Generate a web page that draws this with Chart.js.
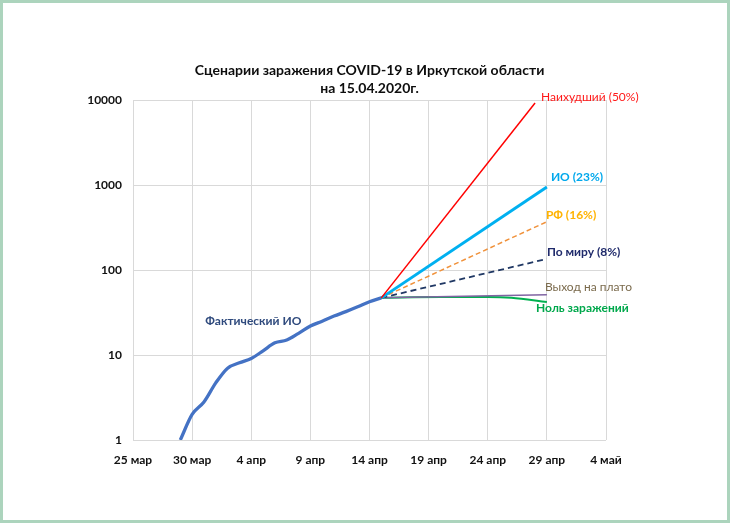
<!DOCTYPE html>
<html>
<head>
<meta charset="utf-8">
<script src="https://cdn.jsdelivr.net/npm/chart.js"></script>
<style>
  html, body { margin: 0; padding: 0; background: #fff; }
  #frame {
    position: absolute; left: 0; top: 0;
    width: 730px; height: 523px;
    box-sizing: border-box;
    border: 3px solid #acd4bd;
    background: #fff;
  }
  canvas { display: block; }
</style>
</head>
<body>
<div id="frame"><canvas id="chart" width="724" height="517"></canvas></div>
<script>
// every day on the x axis
const days = [
  '25 мар', '26 мар', '27 мар', '28 мар', '29 мар', '30 мар', '31 мар',
  '1 апр', '2 апр', '3 апр', '4 апр', '5 апр', '6 апр', '7 апр', '8 апр',
  '9 апр', '10 апр', '11 апр', '12 апр', '13 апр', '14 апр', '15 апр',
  '16 апр', '17 апр', '18 апр', '19 апр', '20 апр', '21 апр', '22 апр',
  '23 апр', '24 апр', '25 апр', '26 апр', '27 апр', '28 апр', '29 апр',
  '30 апр', '1 май', '2 май', '3 май', '4 май'
];
const yTicks = [1, 10, 100, 1000, 10000];

// actual cases in Irkutsk oblast
const actualDates = [
  '29 мар', '30 мар', '31 мар', '1 апр', '2 апр', '3 апр', '4 апр', '5 апр',
  '6 апр', '7 апр', '8 апр', '9 апр', '10 апр', '11 апр', '12 апр', '13 апр',
  '14 апр', '15 апр'
];
const actualValues = [1, 2, 2.8, 4.7, 7, 8.1, 9.1, 11.2, 13.9, 15, 18, 21.9, 25, 28.7, 32.4, 36.9, 42.4, 47];

// scenarios from 15.04
const worstDates = ['15 апр', '28 апр'];
const worstValues = [47, 9200];
const scenarioDates = ['15 апр', '29 апр'];
const ioValues = [47, 950];
const rfValues = [47, 370];
const worldValues = [47, 135];
const plateauValues = [47, 51];
const zeroDates = ['15 апр', '20 апр', '24 апр', '26 апр', '29 апр'];
const zeroValues = [47, 48, 48, 47, 42];

function pts(dates, values) {
  return dates.map((d, i) => ({ x: d, y: values[i] }));
}

const FONT = 'Lato, "Open Sans", sans-serif';

// draws the text tags next to the lines
const tagPlugin = {
  id: 'tags',
  afterDatasetsDraw(chart) {
    const ctx = chart.ctx;
    chart.data.datasets.forEach((ds, i) => {
      if (!ds.tag) return;
      const meta = chart.getDatasetMeta(i);
      const idx = ds.tag.at === undefined ? meta.data.length - 1 : ds.tag.at;
      const el = meta.data[idx];
      ctx.save();
      ctx.font = (ds.tag.bold ? 'bold ' : '') + '12px ' + FONT;
      ctx.fillStyle = ds.tag.color;
      ctx.textAlign = ds.tag.align || 'left';
      ctx.textBaseline = 'middle';
      ctx.fillText(ds.tag.text, el.x + ds.tag.dx, el.y + ds.tag.dy);
      ctx.restore();
    });
  }
};

new Chart(document.getElementById('chart'), {
  type: 'line',
  data: {
    labels: days,
    datasets: [
      {
        data: pts(worstDates, worstValues),
        borderColor: '#ff0000', borderWidth: 1.5,
        tag: { text: 'Наихудший (50%)', color: '#ff1a1a', dx: 6, dy: -6 }
      },
      {
        data: pts(scenarioDates, ioValues),
        borderColor: '#00b0f0', borderWidth: 3,
        tag: { text: 'ИО (23%)', color: '#00a8ec', bold: true, dx: 4, dy: -10 }
      },
      {
        data: pts(scenarioDates, rfValues),
        borderColor: '#f0913a', borderWidth: 1.5, borderDash: [5, 3],
        tag: { text: 'РФ (16%)', color: '#ffb300', bold: true, dx: -1, dy: -7 }
      },
      {
        data: pts(scenarioDates, worldValues),
        borderColor: '#203864', borderWidth: 1.8, borderDash: [6, 4],
        tag: { text: 'По миру (8%)', color: '#1f2a6b', bold: true, dx: 0, dy: -7 }
      },
      {
        data: pts(scenarioDates, plateauValues),
        borderColor: '#8064a2', borderWidth: 1.5,
        tag: { text: 'Выход на плато', color: '#7a6a4c', dx: -2, dy: -8 }
      },
      {
        data: pts(zeroDates, zeroValues),
        borderColor: '#00b050', borderWidth: 2,
        cubicInterpolationMode: 'monotone',
        tag: { text: 'Ноль заражений', color: '#00a84c', bold: true, dx: -11, dy: 6 }
      },
      {
        data: pts(actualDates, actualValues),
        borderColor: '#4472c4', borderWidth: 3.3,
        cubicInterpolationMode: 'monotone',
        tag: { text: 'Фактический ИО', color: '#2f4a7d', bold: true, align: 'center', at: 11, dx: -57, dy: -5 }
      }
    ]
  },
  options: {
    responsive: false,
    animation: false,
    events: [],
    elements: { point: { radius: 0 }, line: { tension: 0 } },
    layout: { padding: { left: 0, right: 121, top: 0, bottom: 40 } },
    plugins: {
      legend: { display: false },
      tooltip: { enabled: false },
      title: {
        display: true,
        fullSize: false,
        text: ['Сценарии заражения COVID-19 в Иркутской области', 'на 15.04.2020г.'],
        color: '#0d0d0d',
        font: { family: FONT, size: 14, weight: 'bold', lineHeight: 1.25 },
        padding: { top: 59, bottom: 3 }
      }
    },
    scales: {
      x: {
        type: 'category',
        offset: false,
        afterBuildTicks: s => { s.ticks = s.ticks.filter((t, i) => i % 5 === 0); },
        afterFit: s => { s.height = 40; },
        grid: { color: '#d9d9d9', drawTicks: false },
        border: { display: false },
        ticks: {
          autoSkip: false, maxRotation: 0, padding: 13,
          color: '#111',
          font: { family: FONT, size: 12, weight: 'bold' }
        }
      },
      y: {
        type: 'logarithmic',
        min: 1, max: 10000,
        afterBuildTicks: s => { s.ticks = yTicks.map(v => ({ value: v })); },
        afterFit: s => { s.width = 130; },
        grid: { color: '#d9d9d9', drawTicks: false },
        border: { display: false },
        ticks: {
          padding: 11,
          color: '#111',
          font: { family: FONT, size: 12, weight: 'bold' },
          callback: v => String(v)
        }
      }
    }
  },
  plugins: [tagPlugin]
});
</script>
</body>
</html>
